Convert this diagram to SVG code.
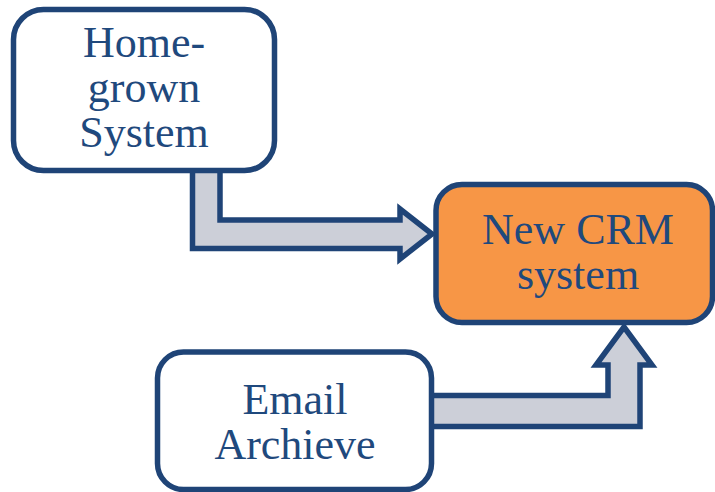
<svg xmlns="http://www.w3.org/2000/svg" width="715" height="492" viewBox="0 0 715 492">
  <style>
    .box { stroke: #1F4477; stroke-width: 5.5; }
    .plain { fill: #FFFFFF; }
    .hot { fill: #F79646; }
    .flow { fill: #CCCFD8; stroke: #1F4477; stroke-width: 5.5; stroke-linejoin: miter; }
    .label { font-family: "Liberation Serif", "Times New Roman", serif; font-size: 44px; fill: #1F497D; text-anchor: middle; }
  </style>
  <rect width="715" height="492" fill="#FFFFFF"/>

  <!-- block arrows -->
  <g id="connectors">
    <path class="flow" d="M192.5,168 L192.5,248.5 L400,248.5 L400,259 L432,234 L400,209 L400,220 L220,220 L220,168 Z"/>
    <path class="flow" d="M428,395.5 L608,395.5 L608,365 L596,365 L624,327 L652,365 L640,365 L640,426.5 L428,426.5 Z"/>
  </g>

  <g id="homegrown">
    <rect class="box plain" x="13.5" y="9.5" width="261" height="161" rx="30"/>
    <text class="label" x="144" y="57">Home-</text>
    <text class="label" x="144" y="102">grown</text>
    <text class="label" x="144" y="147">System</text>
  </g>

  <g id="crm">
    <rect class="box hot" x="436" y="184.5" width="276.5" height="138" rx="26"/>
    <text class="label" x="578" y="244">New CRM</text>
    <text class="label" x="578" y="289">system</text>
  </g>

  <g id="email">
    <rect class="box plain" x="157.5" y="352" width="274" height="137.5" rx="26"/>
    <text class="label" x="295" y="414">Email</text>
    <text class="label" x="295" y="459">Archieve</text>
  </g>
</svg>
